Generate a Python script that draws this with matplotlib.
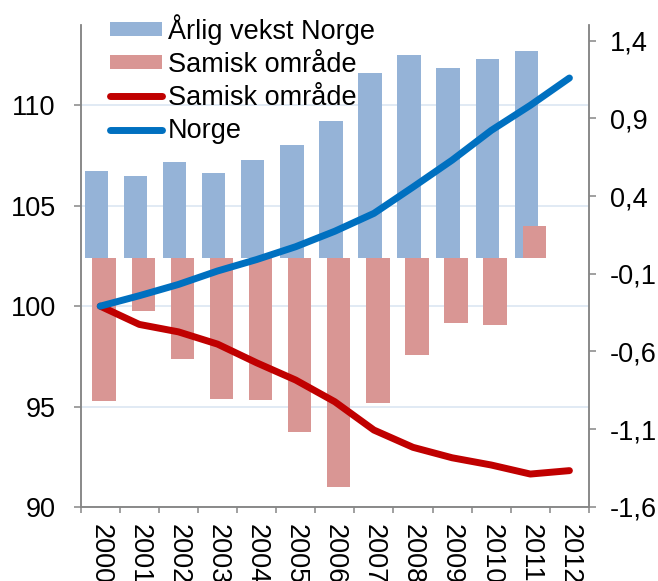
import numpy as np
import matplotlib
matplotlib.use("Agg")
import matplotlib.pyplot as plt
from matplotlib.ticker import FuncFormatter

plt.rcParams['font.family'] = ['Liberation Sans', 'DejaVu Sans']

years = ['2000', '2001', '2002', '2003', '2004', '2005', '2006',
         '2007', '2008', '2009', '2010', '2011', '2012']

# årlig vekst i prosent (høyre akse), 2000-2011
vekst_norge = [0.56, 0.53, 0.62, 0.55, 0.63, 0.73, 0.88, 1.19, 1.31, 1.225, 1.28, 1.33]
vekst_samisk = [-0.92, -0.34, -0.65, -0.905, -0.91, -1.115, -1.47, -0.93, -0.62, -0.415, -0.43, 0.21]

# indeks 2000 = 100 (venstre akse)
indeks_samisk = [100, 99.09, 98.72, 98.11, 97.18, 96.32, 95.24, 93.83, 92.97, 92.45, 92.09, 91.64, 91.81]
indeks_norge = [100, 100.52, 101.08, 101.75, 102.32, 102.96, 103.73, 104.62, 105.93, 107.27, 108.75, 110.0, 111.36]

grey = '#868686'
fs = 19.5

fig = plt.figure(figsize=(6.58, 5.81), dpi=100)
ax = fig.add_axes([0.1226, 0.1274, 0.7725, 0.8296])
ax2 = ax.twinx()   # stolper
ax3 = ax.twinx()   # linjer

x = np.arange(len(years))
xb = np.arange(len(vekst_norge))

# stolper på høyre akse
b1 = ax2.bar(xb - 0.1, vekst_norge, 0.6, color='#95B3D7', label='Årlig vekst Norge', zorder=2)
b2 = ax2.bar(xb + 0.1, vekst_samisk, 0.6, color='#D99694', label='Samisk område', zorder=3)

# linjer på venstre skala
l1, = ax3.plot(x, indeks_samisk, color='#C00000', lw=5, solid_capstyle='round',
               solid_joinstyle='round', label='Samisk område')
l2, = ax3.plot(x, indeks_norge, color='#0070C0', lw=5, solid_capstyle='round',
               solid_joinstyle='round', label='Norge')

# venstre akse
ax.set_xlim(-0.5, len(years) - 0.5)
ax.set_ylim(90, 114)
ax.set_yticks([90, 95, 100, 105, 110])
ax.grid(axis='y', color='#DCE6F2', lw=1.2)
ax.set_axisbelow(True)
ax.tick_params(axis='y', length=5, width=1.1, color=grey, pad=13, labelsize=fs)

# x-akse: streker mellom kategoriene, årstall i midten
ax.set_xticks(np.arange(-0.5, len(years), 1))
ax.set_xticklabels([])
ax.set_xticks(x, minor=True)
ax.set_xticklabels(years, minor=True, rotation=-90, fontsize=fs)
ax.tick_params(axis='x', which='major', length=4.3, width=1.1, color=grey)
ax.tick_params(axis='x', which='minor', length=0, pad=12)

# høyre akse
ax2.set_ylim(-1.6, 1.5)
ax2.set_yticks([-1.6, -1.1, -0.6, -0.1, 0.4, 0.9, 1.4])
ax2.yaxis.set_major_formatter(FuncFormatter(lambda v, p: f'{v:.1f}'.replace('.', ',')))
ax2.tick_params(axis='y', length=5, width=1.1, color=grey, pad=10, labelsize=fs)

ax3.set_ylim(90, 114)
ax3.set_yticks([])
for s in ax3.spines.values():
    s.set_visible(False)

for a in (ax, ax2):
    a.spines['top'].set_visible(False)
    for side in ('left', 'right', 'bottom'):
        a.spines[side].set_color(grey)
        a.spines[side].set_linewidth(1.1)

fig.legend([b1, b2, l1, l2],
           ['Årlig vekst Norge', 'Samisk område', 'Samisk område', 'Norge'],
           loc='upper left', bbox_to_anchor=(110 / 658, 1 - 14 / 581),
           frameon=False, fontsize=fs, handlelength=1.93, handleheight=0.44,
           handletextpad=0.2, labelspacing=0.26, borderpad=0, borderaxespad=0)

fig.savefig('out.png', dpi=100)
